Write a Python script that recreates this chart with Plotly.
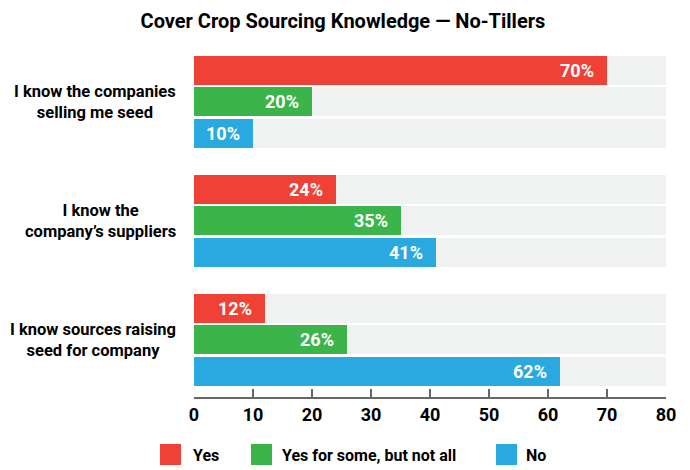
import plotly.graph_objects as go

categories = ["I know the companies<br>selling me seed",
              "I know the<br>company’s suppliers",
              "I know sources raising<br>seed for company"]
series_names = ["Yes", "Yes for some, but not all", "No"]
yes_vals = [70, 24, 12]
some_vals = [20, 35, 26]
no_vals = [10, 41, 62]
x_ticks = [0, 10, 20, 30, 40, 50, 60, 70, 80]

colors = ["#EF4136", "#3BB54A", "#29A9E0"]
bg_color = "#F0F1F1"
FONT = "Roboto, Liberation Sans, sans-serif"

W, H = 690, 470
L, R, T, B = 194, 24, 50, 73
PW, PH = W - L - R, H - T - B
pitch = 0.2647
bw = 0.2437
xmax = 80

def px_x(px):
    return (px - L) / PW

def px_y(py):
    return (H - B - py) / PH

fig = go.Figure()
all_vals = [yes_vals, some_vals, no_vals]
n = len(categories)
annotations = []

# background tracks
bg_y, bg_x = [], []
for j in range(3):
    for i in range(n):
        bg_y.append(i + (j - 1) * pitch)
        bg_x.append(xmax)
fig.add_trace(go.Bar(x=bg_x, y=bg_y, orientation="h", width=bw,
                     marker=dict(color=bg_color, line=dict(width=0)),
                     hoverinfo="skip", showlegend=False))

for j, (name, vals) in enumerate(zip(series_names, all_vals)):
    ys = [i + (j - 1) * pitch for i in range(n)]
    fig.add_trace(go.Bar(
        x=vals, y=ys, orientation="h", width=bw, name=name,
        marker=dict(color=colors[j], line=dict(width=0)),
        hovertemplate="%{x}%<extra>" + name + "</extra>",
        showlegend=False))
    for v, yv in zip(vals, ys):
        annotations.append(dict(text=f"{v}%", xref="x", yref="y", x=v, y=yv,
                                xanchor="right", yanchor="middle", xshift=-11,
                                showarrow=False,
                                font=dict(family=FONT, size=18, color="white", weight="bold")))

for i, c in enumerate(categories):
    annotations.append(dict(text=c, xref="paper", yref="y", x=0, y=i,
                            xanchor="right", yanchor="middle", xshift=-16,
                            align="center", showarrow=False,
                            font=dict(family=FONT, size=16.5, color="black", weight="bold")))

shapes = []
legend_sq = [160, 251, 496]
legend_tx = [191, 280, 524]
for j, name in enumerate(series_names):
    x0 = legend_sq[j]
    shapes.append(dict(type="rect", xref="paper", yref="paper",
                       x0=px_x(x0), x1=px_x(x0 + 21), y0=px_y(465), y1=px_y(444),
                       fillcolor=colors[j], line=dict(width=0)))
    annotations.append(dict(text=name, xref="paper", yref="paper",
                            x=px_x(legend_tx[j]), y=px_y(455), xanchor="left",
                            yanchor="middle", showarrow=False,
                            font=dict(family=FONT, size=16, color="black", weight="bold")))

fig.update_layout(
    width=W, height=H, margin=dict(l=L, r=R, t=T, b=B),
    paper_bgcolor="white", plot_bgcolor="white",
    barmode="overlay", bargap=0,
    title=dict(text="Cover Crop Sourcing Knowledge — No-Tillers",
               x=0.497, xref="container", xanchor="center",
               y=1 - 21 / H, yref="container", yanchor="middle",
               font=dict(family=FONT, size=20, color="black", weight="bold")),
    xaxis=dict(range=[0, xmax], tickvals=x_ticks, ticks="inside", ticklen=8,
               tickwidth=1.5, tickcolor="#666", showline=True, linecolor="#666",
               linewidth=2, showgrid=False, zeroline=False,
               tickfont=dict(family=FONT, size=18, color="black", weight="bold")),
    yaxis=dict(range=[2 + (H - B - 339.5) / 119, -(101.5 - T) / 119],
               visible=False, showgrid=False, zeroline=False),
    annotations=annotations, shapes=shapes, showlegend=False,
)

fig.write_html("out.html")
